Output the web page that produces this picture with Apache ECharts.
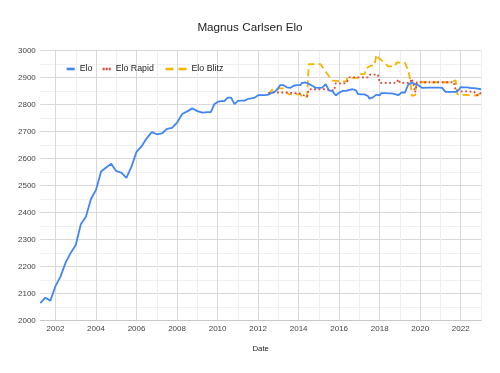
<!DOCTYPE html>
<html>
<head>
<meta charset="utf-8">
<script src="https://cdn.jsdelivr.net/npm/echarts@6/dist/echarts.min.js"></script>
<style>
html,body{margin:0;padding:0;background:#fff;}
#chart{width:500px;height:373px;}
</style>
</head>
<body>
<div id="chart"></div>
<script>
// ---- data ----
const eloDates = [
 '2001-04','2001-07','2001-10','2002-01','2002-04','2002-07','2002-10','2003-01','2003-04','2003-07','2003-10',
 '2004-01','2004-04','2004-07','2004-10','2005-01','2005-04','2005-07','2005-10','2006-01','2006-04','2006-07','2006-10',
 '2007-01','2007-04','2007-07','2007-10','2008-01','2008-04','2008-07','2008-10','2009-01','2009-04','2009-07','2009-09','2009-11',
 '2010-01','2010-03','2010-05','2010-07','2010-09','2010-11','2011-01','2011-03','2011-05','2011-07','2011-09','2011-11',
 '2012-01','2012-02','2012-03','2012-04','2012-05','2012-06','2012-07','2012-08','2012-09','2012-10','2012-11','2012-12',
 '2013-01','2013-02','2013-03','2013-04','2013-05','2013-06','2013-07','2013-08','2013-09','2013-10','2013-11','2013-12',
 '2014-01','2014-02','2014-03','2014-04','2014-05','2014-06','2014-07','2014-08','2014-09','2014-10','2014-11','2014-12',
 '2015-01','2015-02','2015-03','2015-04','2015-05','2015-06','2015-07','2015-08','2015-09','2015-10','2015-11','2015-12',
 '2016-01','2016-02','2016-03','2016-04','2016-05','2016-06','2016-07','2016-08','2016-09','2016-10','2016-11','2016-12',
 '2017-01','2017-02','2017-03','2017-04','2017-05','2017-06','2017-07','2017-08','2017-09','2017-10','2017-11','2017-12',
 '2018-01','2018-02','2018-03','2018-04','2018-05','2018-06','2018-07','2018-08','2018-09','2018-10','2018-11','2018-12',
 '2019-01','2019-02','2019-03','2019-04','2019-05','2019-06','2019-07','2019-08','2019-09','2019-10','2019-11','2019-12',
 '2020-01','2020-02','2020-03','2020-06','2020-09','2020-12',
 '2021-01','2021-02','2021-03','2021-04','2021-05','2021-06','2021-07','2021-08','2021-09','2021-10','2021-11','2021-12',
 '2022-01','2022-02','2022-03','2022-04','2022-05','2022-06','2022-07','2022-08','2022-09','2022-10','2022-11','2022-12',
 '2023-01'
];
const eloValues = [
 2064,2084,2073,2127,2163,2214,2250,2279,2356,2384,2450,
 2484,2552,2567,2581,2553,2548,2528,2570,2625,2646,2675,2698,
 2690,2693,2710,2714,2733,2765,2775,2786,2776,2770,2772,2772,2801,
 2810,2813,2813,2826,2826,2802,2814,2815,2815,2821,2823,2826,
 2835,2835,2835,2835,2835,2837,2837,2843,2843,2843,2848,2848,
 2861,2872,2872,2872,2868,2864,2862,2862,2862,2870,2870,2872,
 2872,2872,2881,2881,2882,2881,2877,2877,2870,2863,2863,2868,
 2862,2865,2863,2863,2876,2876,2853,2853,2850,2850,2834,2834,
 2844,2844,2851,2851,2851,2855,2855,2857,2857,2853,2853,2840,
 2840,2838,2838,2838,2832,2832,2822,2822,2827,2826,2837,2837,
 2834,2843,2843,2843,2843,2842,2842,2842,2839,2839,2835,2835,
 2835,2845,2845,2845,2861,2875,2875,2882,2876,2876,2870,2872,
 2872,2862,2863,2863,2863,2863,
 2862,2862,2862,2847,2847,2847,2847,2847,2847,2847,2847,2856,
 2865,2865,2864,2864,2864,2864,2861,2861,2861,2861,2859,2859,
 2857
];

const rapidDates = [
 '2012-07','2012-10','2013-04','2013-10','2014-01','2014-02','2014-06','2014-07','2015-05','2015-06','2015-10','2015-11',
 '2016-05','2016-06','2016-07','2017-06','2017-07','2017-12','2018-01','2018-11','2018-12','2019-01','2019-07','2019-08',
 '2019-09','2019-10','2019-11','2021-09','2021-10','2022-09','2022-10','2022-12','2023-01'
];
const rapidValues = [
 2843,2845,2845,2843,2843,2836,2829,2857,2857,2852,2852,2879,
 2879,2889,2901,2901,2911,2911,2881,2881,2894,2881,2881,2896,
 2876,2845,2883,2883,2850,2848,2835,2835,2846
];

const blitzDates = [
 '2012-07','2012-10','2013-04','2013-07','2014-02','2014-03','2014-06','2014-07','2015-02','2015-05','2015-09','2016-05',
 '2016-06','2016-12','2017-01','2017-04','2017-05','2017-08','2017-10','2017-11','2017-12','2018-02',
 '2018-04','2018-06','2018-10','2018-11','2019-04','2019-06','2019-07','2019-08','2019-10','2019-11','2021-06','2021-07',
 '2021-10','2021-11','2022-11','2023-01'
];
const blitzValues = [
 2838,2860,2860,2838,2838,2829,2829,2950,2950,2922,2889,2885,
 2899,2899,2913,2913,2935,2945,2945,2985,2975,2965,
 2955,2942,2942,2957,2955,2925,2895,2832,2835,2883,2883,2890,
 2890,2838,2833,2849
];

const xTickValues = [2002,2003,2004,2005,2006,2007,2008,2009,2010,2011,2012,2013,2014,2015,2016,2017,2018,2019,2020,2021,2022,2023];
const xLabelValues = [2002,2004,2006,2008,2010,2012,2014,2016,2018,2020,2022];
const seriesNames = ['Elo','Elo Rapid','Elo Blitz'];
const titleText = 'Magnus Carlsen Elo';
const xAxisName = 'Date';

// ---- build ----
function toYear(s){ const p = s.split('-'); return (+p[0]) + (+p[1]-1)/12; }
function pairs(d, v){ return d.map((s,i)=>[toYear(s), v[i]]); }

const FONT = '"Liberation Sans", Arial, sans-serif';
const colors = ['#4285F4','#DB4437','#F4B400'];
const legendText = {fontSize:8.8,color:'#222',fontFamily:FONT};

const chart = echarts.init(document.getElementById('chart'), null, {renderer:'canvas'});
chart.setOption({
  animation:false,
  backgroundColor:'#fff',
  textStyle:{fontFamily:FONT},
  title:{text:titleText,left:'center',top:16.5,textStyle:{fontSize:11.7,fontWeight:'normal',color:'#222',fontFamily:FONT}},
  legend:[
    {data:[{name:seriesNames[0],icon:'path://M0,0h8v2.6h-8z'}],left:66.7,top:64.5,padding:0,itemWidth:8,itemHeight:2.6,itemGap:0,symbolKeepAspect:false,textStyle:legendText},
    {data:[{name:seriesNames[1],icon:'path://M0,0h2v2.4h-2z M3,0h2v2.4h-2z M6,0h2v2.4h-2z'}],left:102.7,top:64.5,padding:0,itemWidth:8,itemHeight:2.4,itemGap:0,symbolKeepAspect:false,textStyle:legendText},
    {data:[{name:seriesNames[2],icon:'path://M0,0h8v2.6h-8z M13,0h8v2.6h-8z'}],left:165.5,top:64.5,padding:0,itemWidth:21,itemHeight:2.6,itemGap:0,symbolKeepAspect:false,textStyle:legendText}
  ],
  grid:{left:40.3,right:19,top:50.7,bottom:52.7,containLabel:false},
  xAxis:{
    type:'value',min:'dataMin',max:'dataMax',
    name:xAxisName,nameLocation:'middle',nameGap:25,
    nameTextStyle:{fontSize:7.8,color:'#222',fontFamily:FONT},
    axisLine:{show:true,lineStyle:{color:'#c8c8c8',width:1}},
    axisTick:{show:false,customValues:xTickValues},
    axisLabel:{customValues:xLabelValues,fontSize:8,color:'#444',margin:4.5,fontFamily:FONT,formatter:v=>String(v)},
    splitLine:{show:true,lineStyle:{color:['#d9d9d9','#eeeeee'],width:1}}
  },
  yAxis:{
    type:'value',min:2000,max:3000,interval:100,
    axisLine:{show:false},axisTick:{show:false},
    axisLabel:{fontSize:8,color:'#444',margin:4.5,fontFamily:FONT,formatter:v=>String(v)},
    splitLine:{show:true,lineStyle:{color:'#d9d9d9',width:1}},
    minorTick:{show:false,splitNumber:2},
    minorSplitLine:{show:true,lineStyle:{color:'#f0f0f0',width:1}}
  },
  series:[
    {name:seriesNames[0],type:'line',data:pairs(eloDates,eloValues),symbol:'none',z:3,
     lineStyle:{color:colors[0],width:1.8},itemStyle:{color:colors[0]}},
    {name:seriesNames[1],type:'line',data:pairs(rapidDates,rapidValues),symbol:'none',z:2,
     lineStyle:{color:colors[1],width:1.8,type:[1.8,2.6]},itemStyle:{color:colors[1]}},
    {name:seriesNames[2],type:'line',data:pairs(blitzDates,blitzValues),symbol:'none',z:1,
     lineStyle:{color:colors[2],width:1.8,type:[7,4]},itemStyle:{color:colors[2]}}
  ]
});
</script>
</body>
</html>
